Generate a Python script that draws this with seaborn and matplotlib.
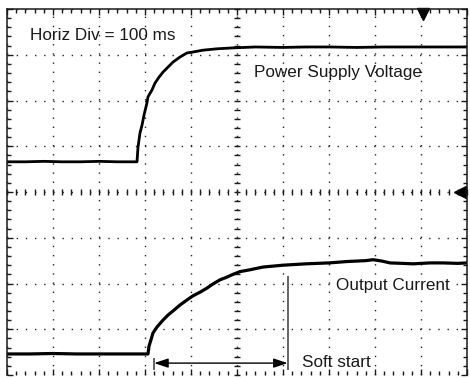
import matplotlib
matplotlib.use("Agg")
import matplotlib.pyplot as plt
from matplotlib.ticker import MultipleLocator, NullFormatter
import pandas as pd
import seaborn as sns

# Oscilloscope capture: 100 ms per horizontal division, traces in vertical divisions
voltage_t = [0, 40, 80, 120, 160, 200, 240, 282.6, 284.8, 289.1, 293.5, 297.8,
             304.3, 306.5, 315.2, 321.7, 330.4, 339.1, 350.0, 360.9, 376.1,
             391.3, 404.3, 426.1, 456.5, 491.3, 540, 600, 650, 700, 760, 820,
             880, 940, 1000]
voltage_div = [4.66, 4.66, 4.67, 4.66, 4.66, 4.67, 4.66, 4.66, 4.98, 5.29, 5.46,
               5.68, 5.95, 6.08, 6.23, 6.38, 6.51, 6.62, 6.73, 6.84, 6.95, 7.04,
               7.06, 7.10, 7.13, 7.15, 7.17, 7.16, 7.17, 7.17, 7.16, 7.17, 7.17,
               7.17, 7.17]

current_t = [0, 50, 100, 150, 200, 250, 306.5, 308.7, 313.0, 317.4, 326.1, 339.1,
             350.0, 360.9, 376.1, 391.3, 404.3, 419.6, 434.8, 447.8, 463.0, 478.3,
             491.3, 506.5, 528.3, 556.5, 600, 650, 700, 739, 780, 795.7, 815.2,
             832.6, 860, 882.6, 920, 947.8, 980, 1000]
current_div = [0.46, 0.46, 0.47, 0.46, 0.46, 0.46, 0.46, 0.63, 0.77, 0.92, 1.05,
               1.20, 1.31, 1.40, 1.53, 1.64, 1.73, 1.81, 1.90, 1.99, 2.08, 2.14,
               2.20, 2.26, 2.30, 2.36, 2.40, 2.43, 2.45, 2.48, 2.50, 2.52, 2.49,
               2.45, 2.44, 2.43, 2.45, 2.45, 2.44, 2.45]

# Soft-start interval marked under the current trace
soft_start_begin = 320
soft_start_end = 610
arrow_level = 0.26

# Trigger position (top) and trigger level (right edge)
trigger_time = 904
trigger_level = 4.0

sns.set_theme(style="white")
plt.rcParams["font.family"] = ["Liberation Sans", "DejaVu Sans"]

fig = plt.figure(figsize=(4.7, 3.78), dpi=100)
ax = fig.add_axes([7 / 470, 3 / 378, 460 / 470, 366 / 378])
ax.set_xlim(0, 1000)
ax.set_ylim(0, 8)

# graticule: dotted grid, ticks on the frame
ax.xaxis.set_major_locator(MultipleLocator(100))
ax.xaxis.set_minor_locator(MultipleLocator(20))
ax.yaxis.set_major_locator(MultipleLocator(1))
ax.yaxis.set_minor_locator(MultipleLocator(0.2))
ax.xaxis.set_major_formatter(NullFormatter())
ax.yaxis.set_major_formatter(NullFormatter())
ax.grid(True, which="major", color="0.15", linestyle=(0, (1, 5.6)), linewidth=1.0)
ax.tick_params(which="both", direction="in", top=True, right=True, bottom=True,
               left=True, labelbottom=False, labelleft=False, color="0.1")
ax.tick_params(which="major", length=4, width=1)
ax.tick_params(which="minor", length=3, width=1)
for side in ["left", "top", "right"]:
    ax.spines[side].set_color("0.1")
    ax.spines[side].set_linewidth(1.1)
ax.spines["bottom"].set_visible(False)

# centre axes with cross ticks
cx = ax.secondary_xaxis(0.5)
cx.xaxis.set_major_locator(MultipleLocator(100))
cx.xaxis.set_minor_locator(MultipleLocator(20))
cx.tick_params(which="both", direction="inout", length=4, width=1, color="0.1",
               labelbottom=False, labeltop=False)
for s in cx.spines.values():
    s.set_visible(False)
cy = ax.secondary_yaxis(0.5)
cy.yaxis.set_major_locator(MultipleLocator(1))
cy.yaxis.set_minor_locator(MultipleLocator(0.2))
cy.tick_params(which="both", direction="inout", length=4, width=1, color="0.1",
               labelleft=False, labelright=False)
for s in cy.spines.values():
    s.set_visible(False)

# traces
voltage = pd.DataFrame({"t": voltage_t, "v": voltage_div})
current = pd.DataFrame({"t": current_t, "i": current_div})
sns.lineplot(data=voltage, x="t", y="v", ax=ax, color="black", lw=2.0,
             estimator=None, sort=False)
sns.lineplot(data=current, x="t", y="i", ax=ax, color="black", lw=2.3,
             estimator=None, sort=False)
ax.set_xlabel("")
ax.set_ylabel("")

# trigger indicators
ax.plot([trigger_time], [7.9], marker="v", markersize=8, color="black",
        clip_on=False)
ax.plot([985], [trigger_level], marker="<", markersize=8, color="black",
        clip_on=False)

# soft-start markers and arrow
ax.vlines(soft_start_begin, 0.11, 0.37, color="0.35", lw=1.3)
ax.vlines(soft_start_end, 0.11, 2.16, color="0.35", lw=1.3)
ax.annotate("", xy=(soft_start_end, arrow_level), xytext=(soft_start_begin, arrow_level),
            arrowprops=dict(arrowstyle="<|-|>,head_length=0.6,head_width=0.2",
                            mutation_scale=14, color="black", lw=1.0,
                            shrinkA=0, shrinkB=0))

txt = dict(fontsize=12.3, color="#1a1a1a", va="center", ha="left")
ax.text(50, 7.41, "Horiz Div = 100 ms", **txt)
ax.text(537, 6.62, "Power Supply Voltage", **txt)
ax.text(715, 1.95, "Output Current",
        bbox=dict(boxstyle="square,pad=0.05", fc="white", ec="none"), **txt)
ax.text(641, 0.28, "Soft start", **txt)

fig.savefig("out.png", dpi=100)
